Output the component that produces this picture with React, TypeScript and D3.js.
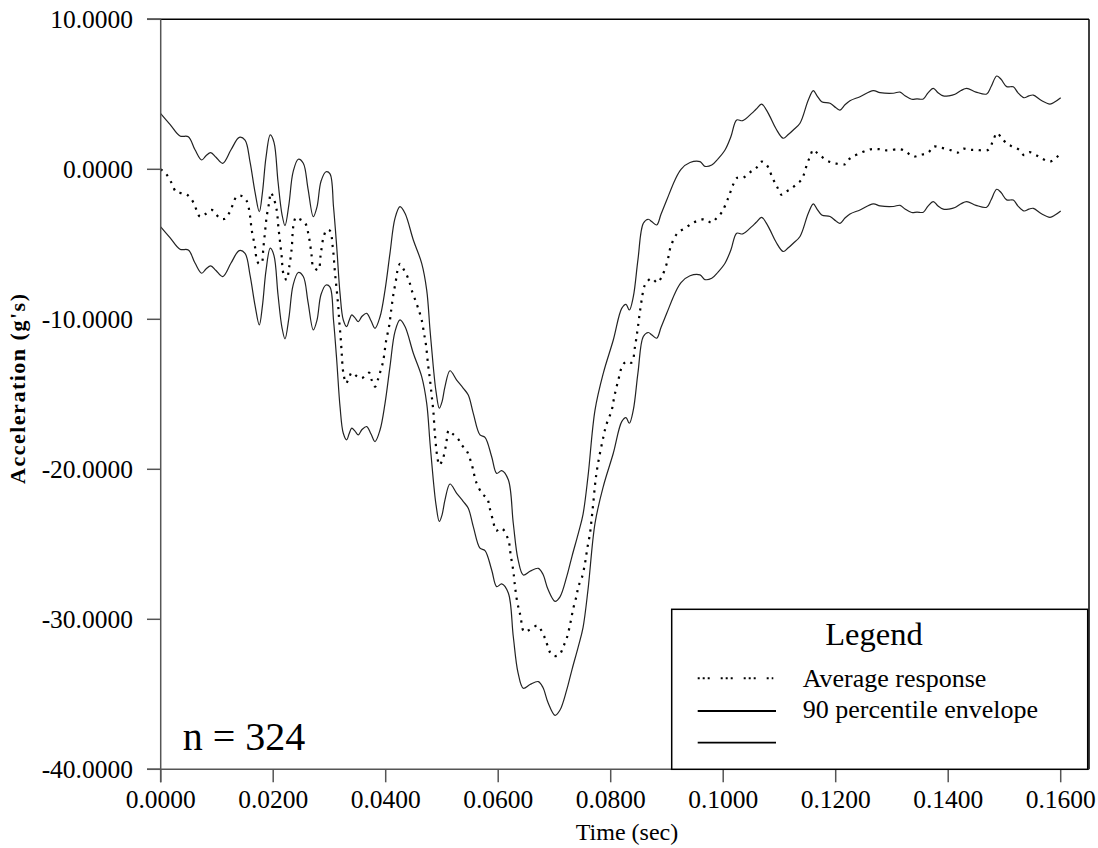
import React from "react";
import * as d3 from "d3";

// ---- Data ----
const envTime = [
  0.0, 0.00165, 0.00343, 0.00491, 0.0061, 0.00729, 0.00805, 0.00889, 0.00983, 0.01102,
  0.0125, 0.01397, 0.01499, 0.01588, 0.01676, 0.01753, 0.0181, 0.01872, 0.01948, 0.02014,
  0.02085, 0.02156, 0.0221, 0.02281, 0.02352, 0.02446, 0.02535, 0.02619, 0.02713, 0.02779,
  0.0285, 0.02939, 0.0301, 0.03072, 0.03129, 0.03188, 0.03246, 0.03307, 0.03348, 0.03396,
  0.03454, 0.03513, 0.03579, 0.03662, 0.03739, 0.0381, 0.03899, 0.03988, 0.04076, 0.04165,
  0.04254, 0.04343, 0.04491, 0.0464, 0.04729, 0.04788, 0.04846, 0.04894, 0.04953, 0.05001,
  0.05054, 0.05143, 0.05262, 0.0538, 0.05468, 0.05557, 0.05676, 0.05765, 0.05884, 0.05973,
  0.06062, 0.0618, 0.06268, 0.06352, 0.06446, 0.06565, 0.06713, 0.06796, 0.06885, 0.0701,
  0.07099, 0.07218, 0.07312, 0.07424, 0.07508, 0.07596, 0.07721, 0.07868, 0.08046, 0.08196,
  0.08272, 0.08331, 0.08402, 0.08485, 0.0858, 0.08668, 0.08734, 0.08818, 0.08894, 0.08996,
  0.09143, 0.0925, 0.0941, 0.09588, 0.09676, 0.09796, 0.09908, 0.10032, 0.10139, 0.1024,
  0.10347, 0.10507, 0.10583, 0.10684, 0.10761, 0.10832, 0.10939, 0.11068, 0.11152, 0.11246,
  0.11365, 0.11513, 0.11602, 0.11668, 0.11751, 0.11899, 0.12005, 0.12077, 0.12165, 0.12254,
  0.12432, 0.12668, 0.12788, 0.13024, 0.13143, 0.13232, 0.13351, 0.13445, 0.13557, 0.13641,
  0.13735, 0.13819, 0.13913, 0.14014, 0.14121, 0.14227, 0.14329, 0.14494, 0.14684, 0.14761,
  0.14862, 0.14939, 0.1504, 0.15157, 0.15241, 0.15347, 0.15436, 0.15513, 0.1565, 0.1581,
  0.15899, 0.16,
];

const upperEnvelope = [
  3.71, 3.0, 2.22, 2.17, 1.3, 0.62, 0.9, 1.11, 0.8, 0.4,
  1.3, 2.13, 1.95, 0.5, -1.5, -2.83, -1.5, 0.8, 2.29, 1.8,
  -0.8, -3.0, -3.75, -2.3, -0.2, 0.67, 0.4, -1.3, -3.16, -2.5,
  -0.8, -0.16, -0.3, -2.5, -5.16, -8.27, -10.05, -10.49, -10.1, -9.71,
  -9.9, -10.16, -9.8, -9.6, -10.1, -10.6, -9.83, -8.05, -5.6, -3.27,
  -2.49, -2.93, -4.71, -6.27, -8.05, -10.71, -13.16, -14.8, -15.93, -15.5,
  -14.49, -13.43, -14.05, -14.6, -15.05, -16.27, -17.71, -17.87, -19.16, -20.27,
  -20.09, -20.7, -23.6, -26.0, -27.05, -26.8, -26.6, -27.0, -28.0, -28.8,
  -28.5, -27.16, -25.8, -24.27, -23.0, -20.49, -16.05, -13.6, -11.38, -9.27,
  -9.0, -9.38, -8.49, -6.0, -3.6, -3.33, -3.5, -3.71, -3.0, -2.05,
  -0.71, 0.0, 0.45, 0.51, 0.2, 0.29, 0.7, 1.29, 2.2, 3.29,
  3.24, 3.73, 4.0, 4.35, 4.0, 3.51, 2.7, 2.07, 2.3, 2.62,
  3.07, 4.62, 5.24, 4.9, 4.51, 4.4, 4.1, 3.95, 4.3, 4.57,
  4.84, 5.24, 5.11, 5.07, 5.15, 4.9, 4.67, 4.7, 4.69, 5.1,
  5.4, 5.1, 4.89, 4.9, 5.0, 5.25, 5.4, 5.15, 5.02, 5.5,
  6.22, 6.0, 5.51, 5.5, 5.1, 4.77, 4.9, 4.95, 4.6, 4.35,
  4.5, 4.77,
];

const lowerEnvelope = [
  -3.84, -4.55, -5.33, -5.38, -6.25, -6.93, -6.65, -6.44, -6.75, -7.15,
  -6.25, -5.42, -5.6, -7.05, -9.05, -10.38, -9.05, -6.75, -5.26, -5.75,
  -8.35, -10.55, -11.3, -9.85, -7.75, -6.88, -7.15, -8.85, -10.71, -10.05,
  -8.35, -7.71, -7.85, -10.05, -12.71, -15.82, -17.6, -18.04, -17.65, -17.26,
  -17.45, -17.71, -17.35, -17.15, -17.65, -18.15, -17.38, -15.6, -13.15, -10.82,
  -10.04, -10.48, -12.26, -13.82, -15.6, -18.26, -20.71, -22.35, -23.48, -23.05,
  -22.04, -20.98, -21.6, -22.15, -22.6, -23.82, -25.26, -25.42, -26.71, -27.82,
  -27.64, -28.25, -31.15, -33.55, -34.6, -34.35, -34.15, -34.55, -35.55, -36.4,
  -36.05, -34.71, -33.35, -31.82, -30.55, -28.04, -23.6, -21.15, -18.93, -16.82,
  -16.55, -16.93, -16.04, -13.55, -11.15, -10.88, -11.05, -11.26, -10.55, -9.6,
  -8.26, -7.55, -7.1, -7.04, -7.35, -7.26, -6.85, -6.26, -5.35, -4.26,
  -4.31, -3.82, -3.55, -3.2, -3.55, -4.04, -4.85, -5.48, -5.25, -4.93,
  -4.48, -2.93, -2.31, -2.65, -3.04, -3.15, -3.45, -3.6, -3.25, -2.98,
  -2.71, -2.31, -2.44, -2.48, -2.4, -2.65, -2.88, -2.85, -2.86, -2.45,
  -2.15, -2.45, -2.66, -2.65, -2.55, -2.3, -2.15, -2.4, -2.53, -2.05,
  -1.33, -1.55, -2.04, -2.05, -2.45, -2.78, -2.65, -2.6, -2.95, -3.2,
  -3.05, -2.78,
];

const avgTime = [
  0.0, 0.00094, 0.00196, 0.00272, 0.00373, 0.00468, 0.0058, 0.00699, 0.00788, 0.00907,
  0.00983, 0.01054, 0.01143, 0.01232, 0.01351, 0.0144, 0.01529, 0.01588, 0.01618, 0.01676,
  0.01707, 0.01748, 0.01796, 0.01824, 0.01854, 0.01884, 0.01931, 0.01956, 0.01996, 0.02062,
  0.02091, 0.02121, 0.02151, 0.0218, 0.0224, 0.02281, 0.02329, 0.02357, 0.02405, 0.02459,
  0.02565, 0.02636, 0.02684, 0.02713, 0.02802, 0.02844, 0.02891, 0.02951, 0.0301, 0.03058,
  0.03099, 0.03129, 0.03157, 0.03175, 0.032, 0.03218, 0.03236, 0.03259, 0.03294, 0.03348,
  0.03396, 0.03495, 0.03573, 0.0365, 0.03708, 0.03751, 0.0381, 0.03863, 0.03899, 0.03947,
  0.0397, 0.04005, 0.04064, 0.04094, 0.04135, 0.04183, 0.04206, 0.04254, 0.04308, 0.04373,
  0.0442, 0.04462, 0.04551, 0.04597, 0.0464, 0.04681, 0.04716, 0.04752, 0.04788, 0.04818,
  0.04846, 0.04876, 0.04917, 0.04953, 0.05013, 0.05072, 0.0512, 0.05179, 0.05291, 0.05351,
  0.0544, 0.0554, 0.0557, 0.05605, 0.05717, 0.05806, 0.05842, 0.05913, 0.05961, 0.06062,
  0.0618, 0.06222, 0.06268, 0.06299, 0.0634, 0.06375, 0.064, 0.06459, 0.06553, 0.06695,
  0.06761, 0.06832, 0.06873, 0.06933, 0.0701, 0.07099, 0.07157, 0.07218, 0.07276, 0.07335,
  0.07396, 0.07424, 0.07484, 0.07543, 0.07584, 0.07632, 0.07662, 0.07691, 0.07721, 0.07751,
  0.07797, 0.07858, 0.07916, 0.08018, 0.08064, 0.08135, 0.08213, 0.0829, 0.08373, 0.08432,
  0.08473, 0.08508, 0.08551, 0.0861, 0.08729, 0.08828, 0.08907, 0.09006, 0.09067, 0.09184,
  0.09339, 0.09446, 0.09557, 0.09676, 0.09796, 0.09872, 0.0997, 0.10091, 0.1018, 0.10251,
  0.10357, 0.10476, 0.10583, 0.10684, 0.10773, 0.1088, 0.10962, 0.1104, 0.11116, 0.11205,
  0.11307, 0.11396, 0.11495, 0.11543, 0.11602, 0.11668, 0.11751, 0.11868, 0.11988, 0.12165,
  0.12254, 0.12379, 0.1261, 0.1277, 0.12903, 0.13152, 0.13262, 0.13374, 0.13499, 0.13646,
  0.13735, 0.13855, 0.14032, 0.14165, 0.14263, 0.14388, 0.14507, 0.14713, 0.14796, 0.14868,
  0.14951, 0.15045, 0.15152, 0.15264, 0.15347, 0.15454, 0.15561, 0.15662, 0.15797, 0.15863,
  0.1594, 0.16,
];

const avgResponse = [
  0.0, -0.3, -0.93, -1.5, -1.6, -1.7, -2.2, -3.16, -3.0, -2.71,
  -3.0, -3.27, -3.3, -2.82, -1.82, -1.78, -2.11, -3.11, -4.05, -5.16,
  -6.0, -6.3, -6.22, -5.27, -4.2, -3.16, -2.16, -1.56, -1.8, -2.71,
  -3.82, -4.82, -5.82, -6.93, -7.38, -6.6, -5.27, -3.82, -3.2, -3.3,
  -3.56, -4.53, -5.78, -6.49, -6.71, -5.71, -4.6, -4.05, -4.1, -5.16,
  -6.93, -8.05, -9.16, -10.16, -11.27, -12.27, -13.27, -13.82, -14.27, -13.9,
  -13.56, -13.82, -13.93, -13.7, -13.56, -14.05, -14.49, -14.0, -13.56, -12.93,
  -12.45, -11.49, -10.38, -9.49, -8.38, -7.38, -6.82, -6.31, -6.6, -7.05,
  -7.49, -8.05, -8.98, -9.49, -10.05, -10.93, -11.7, -12.98, -14.05, -15.11,
  -16.09, -17.71, -19.16, -19.71, -19.33, -18.38, -17.42, -17.6, -18.0, -18.38,
  -18.76, -19.82, -20.31, -20.82, -21.64, -21.93, -22.49, -23.49, -24.09, -23.93,
  -24.71, -25.71, -26.76, -27.82, -28.89, -29.42, -29.87, -30.82, -30.71, -30.42,
  -30.7, -31.27, -31.71, -32.27, -32.45, -32.31, -31.82, -31.27, -30.38, -29.27,
  -28.38, -27.82, -27.27, -26.27, -25.27, -24.27, -23.27, -22.22, -21.05, -20.16,
  -19.16, -18.05, -17.11, -16.05, -15.16, -14.05, -13.05, -12.8, -12.89, -11.82,
  -10.82, -9.82, -8.71, -7.71, -7.27, -7.56, -7.16, -6.16, -5.16, -4.27,
  -3.89, -3.6, -3.42, -3.33, -3.56, -3.3, -2.89, -1.9, -1.0, -0.56,
  -0.56, -0.2, 0.07, 0.51, 0.29, -0.6, -1.2, -1.7, -1.5, -1.3,
  -0.98, -0.67, 0.4, 0.84, 1.31, 1.1, 0.84, 0.54, 0.4, 0.33,
  0.73, 0.98, 1.33, 1.34, 1.26, 1.33, 1.14, 0.84, 0.95, 1.12,
  1.51, 1.45, 1.29, 1.11, 1.37, 1.3, 1.29, 1.3, 1.9, 2.42,
  2.07, 1.71, 1.5, 1.29, 0.95, 1.14, 0.95, 0.73, 0.51, 0.6,
  0.84, 1.07,
];

const xTicks = [0, 0.02, 0.04, 0.06, 0.08, 0.1, 0.12, 0.14, 0.16];
const yTicks = [10, 0, -10, -20, -30, -40];
const legendTitle = "Legend";
const legendLabels = ["Average response", "90 percentile envelope", ""];
const sampleSizeLabel = "n = 324";
const xAxisTitle = "Time (sec)";
const yAxisTitle = "Acceleration (g's)";

const W = 1098;
const H = 848;
const FONT = "'Liberation Serif', 'Times New Roman', serif";

export default function App() {
  const x = d3.scaleLinear().domain([0, 0.16503]).range([160.7, 1089]);
  const y = d3.scaleLinear().domain([-40, 10]).range([769.3, 19.3]);

  const envLine = (vals: number[]) =>
    d3
      .line<number>()
      .x((_, i) => x(envTime[i]))
      .y((d) => y(d))
      .curve(d3.curveCatmullRom.alpha(0.5))(vals) || "";

  const avgPath =
    d3
      .line<number>()
      .x((_, i) => x(avgTime[i]))
      .y((d) => y(d))
      .curve(d3.curveCatmullRom.alpha(0.5))(avgResponse) || "";

  const left = x(0);
  const right = x.range()[1];
  const top = y(10);
  const bottom = y(-40);

  const legX = 671.7;
  const legY = 609.3;
  const legW = 416;
  const legH = bottom - legY;

  return (
    <svg
      width={W}
      height={H}
      style={{ position: "absolute", left: 0, top: 0, background: "#fff" }}
      fontFamily={FONT}
    >
      <rect x={0} y={0} width={W} height={H} fill="#fff" />

      {/* curves */}
      <path d={envLine(upperEnvelope)} fill="none" stroke="#222" strokeWidth={1.2} />
      <path d={envLine(lowerEnvelope)} fill="none" stroke="#222" strokeWidth={1.2} />
      <path
        d={avgPath}
        fill="none"
        stroke="#000"
        strokeWidth={2.2}
        strokeDasharray="2.2 5.6"
      />

      {/* frame: top & right */}
      <line x1={147} x2={right} y1={top} y2={top} stroke="#000" strokeWidth={1.5} />
      <line x1={right} x2={right} y1={top} y2={bottom} stroke="#000" strokeWidth={1.5} />

      {/* y axis */}
      <line x1={left} x2={left} y1={top} y2={bottom + 13} stroke="#555" strokeWidth={1.5} />
      {yTicks.map((t) => (
        <g key={"y" + t}>
          <line x1={147} x2={left} y1={y(t)} y2={y(t)} stroke="#555" strokeWidth={1.5} />
          <text
            x={133}
            y={y(t)}
            dy="0.33em"
            textAnchor="end"
            fontSize={25.5}
            fill="#000"
          >
            {t.toFixed(4)}
          </text>
        </g>
      ))}

      {/* x axis */}
      <line x1={147} x2={right} y1={bottom} y2={bottom} stroke="#555" strokeWidth={1.5} />
      {xTicks.map((t) => (
        <g key={"x" + t}>
          <line x1={x(t)} x2={x(t)} y1={bottom} y2={bottom + 13} stroke="#555" strokeWidth={1.5} />
          <text x={x(t)} y={808.3} textAnchor="middle" fontSize={25.5} fill="#000">
            {t.toFixed(4)}
          </text>
        </g>
      ))}

      {/* axis titles */}
      <text x={627} y={840} textAnchor="middle" fontSize={24} fill="#000">
        {xAxisTitle}
      </text>
      <text
        transform={`translate(25,389) rotate(-90)`}
        textAnchor="middle"
        fontSize={22}
        fontWeight="bold"
        fill="#000"
        textLength={190}
        lengthAdjust="spacing"
      >
        {yAxisTitle}
      </text>

      {/* n label */}
      <text x={182.7} y={750} fontSize={40} fill="#000">
        {sampleSizeLabel}
      </text>

      {/* legend */}
      <rect x={legX} y={legY} width={legW} height={legH} fill="#fff" stroke="#000" strokeWidth={1.5} />
      <text x={874} y={645} textAnchor="middle" fontSize={32.5} fill="#000">
        {legendTitle}
      </text>
      <line
        x1={697.7}
        x2={773.3}
        y1={678.3}
        y2={678.3}
        stroke="#000"
        strokeWidth={2}
        strokeDasharray="2 3 2 3 2 11"
      />
      <line x1={697.7} x2={776} y1={711} y2={711} stroke="#000" strokeWidth={1.8} />
      <line x1={697.7} x2={776} y1={742.7} y2={742.7} stroke="#000" strokeWidth={1.8} />
      {legendLabels.map((l, i) => (
        <text key={"l" + i} x={802.7} y={686.7 + i * 31.6} fontSize={26} fill="#000">
          {l}
        </text>
      ))}
    </svg>
  );
}
